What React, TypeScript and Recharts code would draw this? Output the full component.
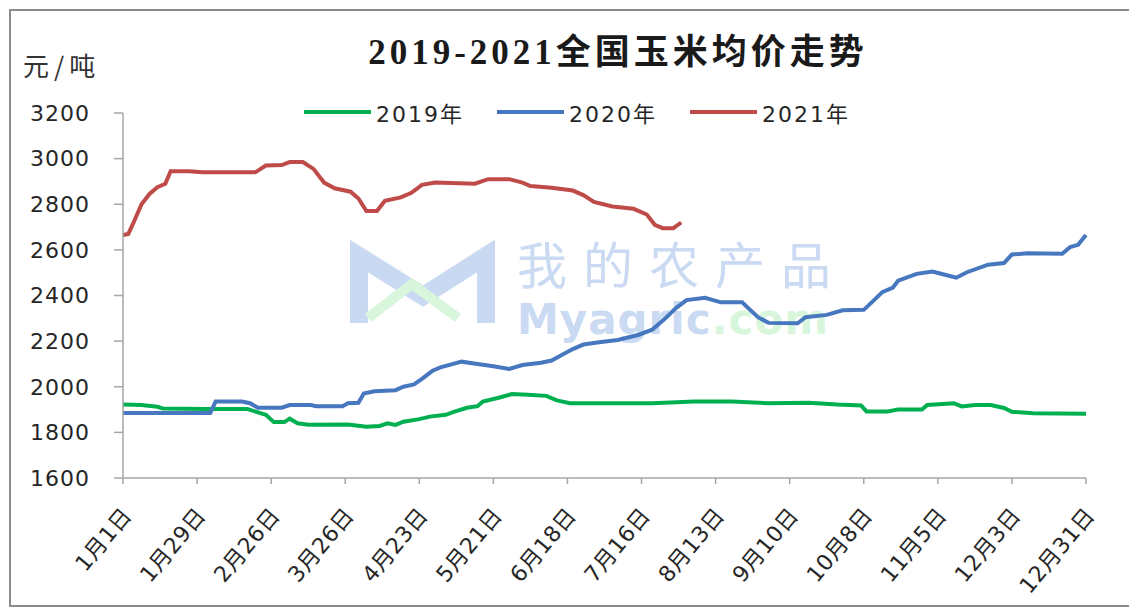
import { LineChart, Line, XAxis, YAxis, Legend } from 'recharts';

// x = day of year (0 = 1月1日), ticks every 28 days
const tickDays = [0, 28, 56, 84, 112, 140, 168, 196, 224, 252, 280, 308, 336, 364];
const tickLabels = ['1月1日', '1月29日', '2月26日', '3月26日', '4月23日', '5月21日', '6月18日',
  '7月16日', '8月13日', '9月10日', '10月8日', '11月5日', '12月3日', '12月31日'];
const yTicks = [1600, 1800, 2000, 2200, 2400, 2600, 2800, 3000, 3200];

const days2019 = [0, 7, 13, 15, 32, 47, 51, 54, 57, 61, 63, 66, 70, 85, 92, 97, 100, 103, 106, 112,
  116, 122, 125, 130, 134, 136, 142, 147, 153, 160, 164, 169, 180, 200, 216, 230, 244, 259, 270, 279,
  281, 289, 293, 302, 304, 314, 317, 322, 328, 333, 336, 344, 364];
const price2019 = [1922, 1920, 1912, 1905, 1902, 1902, 1888, 1877, 1845, 1845, 1860, 1840, 1833, 1835, 1825, 1828, 1840, 1833, 1847, 1858,
  1869, 1877, 1890, 1908, 1915, 1935, 1952, 1968, 1965, 1960, 1940, 1928, 1928, 1928, 1935, 1935, 1928, 1930, 1922, 1918,
  1892, 1892, 1900, 1900, 1920, 1928, 1914, 1920, 1920, 1907, 1890, 1884, 1882];

const days2020 = [0, 33, 35, 45, 48, 51, 60, 63, 71, 73, 83, 85, 89, 91, 95, 103, 106, 110, 113, 117,
  120, 128, 134, 140, 146, 151, 158, 162, 166, 170, 174, 180, 187, 195, 200, 205, 209, 213, 220, 226,
  234, 240, 244, 255, 258, 266, 272, 280, 283, 287, 291, 293, 300, 306, 311, 315, 319, 327, 333, 336,
  342, 355, 358, 361, 364];
const price2020 = [1885, 1885, 1935, 1935, 1928, 1908, 1908, 1920, 1920, 1915, 1915, 1928, 1930, 1970, 1980, 1985, 2000, 2010, 2035, 2070,
  2085, 2110, 2100, 2090, 2078, 2095, 2105, 2115, 2140, 2165, 2185, 2195, 2205, 2228, 2250, 2300, 2345, 2380, 2390, 2370,
  2370, 2305, 2280, 2278, 2305, 2315, 2335, 2337, 2370, 2415, 2435, 2465, 2495, 2505, 2490, 2478, 2502, 2535, 2542, 2580,
  2585, 2583, 2612, 2622, 2665];

const days2021 = [0, 2, 4, 7, 10, 13, 16, 18, 25, 30, 50, 54, 60, 63, 68, 72, 76, 80, 86, 89,
  92, 96, 99, 105, 109, 113, 118, 133, 138, 146, 151, 154, 162, 170, 174, 178, 185, 193, 198, 201,
  204, 208, 211];
const price2021 = [2665, 2670, 2720, 2800, 2845, 2875, 2890, 2945, 2945, 2940, 2940, 2970, 2972, 2985, 2985, 2955, 2895, 2870, 2855, 2825,
  2770, 2770, 2815, 2830, 2850, 2885, 2895, 2890, 2910, 2910, 2895, 2880, 2872, 2860, 2840, 2810, 2790, 2780, 2755, 2710,
  2695, 2695, 2720];

const toRows = (days: number[], vals: number[]) => days.map((d, i) => ({ day: d, v: vals[i] }));

const series = [
  { name: '2019年', color: '#00b050', data: toRows(days2019, price2019) },
  { name: '2020年', color: '#4677bf', data: toRows(days2020, price2020) },
  { name: '2021年', color: '#be4b48', data: toRows(days2021, price2021) },
];

const FONT = "'DejaVu Sans', 'Noto Sans CJK SC', sans-serif";

const XTick = (props: any) => {
  const { x, y, payload } = props;
  const label = tickLabels[tickDays.indexOf(payload.value)];
  return (
    <g transform={`translate(${x + 10},${y + 32})`}>
      <text textAnchor="end" transform="rotate(-50)" fill="#262626" fontSize={22} fontFamily={FONT} letterSpacing={0.5}>
        {label}
      </text>
    </g>
  );
};

const LegendBox = () => (
  <div style={{ display: 'flex', alignItems: 'center', fontFamily: FONT, fontSize: 22, color: '#262626' }}>
    {series.map((s) => (
      <div key={s.name} style={{ display: 'flex', alignItems: 'center', marginRight: 33 }}>
        <span style={{ display: 'inline-block', width: 67, height: 4, background: s.color, marginRight: 5 }} />
        <span style={{ letterSpacing: 2 }}>{s.name}</span>
      </div>
    ))}
  </div>
);

export default function App() {
  return (
    <div style={{ position: 'relative', width: 1124, height: 600 }}>
      <div style={{ position: 'absolute', left: 1, top: 1, width: 1123, height: 598, border: '2px solid #8c8c8c', boxSizing: 'border-box' }} />
      {/* watermark */}
      <svg width={1124} height={600} style={{ position: 'absolute', left: 0, top: 0 }}>
        <g transform="translate(-8,-8)">
          <polyline points="359,323 359,256 423,296 486,256 486,323" fill="none" stroke="#c8d9f1" strokeWidth={18} />
          <polyline points="368,318 412,284 458,318" fill="none" stroke="#d8f6dc" strokeWidth={10} />
          <text x={517} y={284} fontSize={50} letterSpacing={16} fill="#c9daf2" fontFamily="'Noto Sans CJK SC', sans-serif">我的农产品</text>
          <text x={517} y={334} fontSize={42} fontWeight="bold" letterSpacing={1} fontFamily="'DejaVu Sans', sans-serif">
            <tspan fill="#c9daf2">Myagric</tspan>
            <tspan fill="#d8f6dc">.com</tspan>
          </text>
        </g>
      </svg>
      <div style={{ position: 'absolute', left: 0, top: 0 }}>
        <LineChart width={1124} height={598} margin={{ top: 105, right: 46, bottom: 68, left: 0 }}>
          <XAxis
            dataKey="day"
            type="number"
            domain={[0, 364]}
            ticks={tickDays}
            interval={0}
            height={60}
            tick={<XTick />}
            tickSize={6}
            tickMargin={0}
            stroke="#a6a6a6"
            strokeWidth={1.5}
            allowDuplicatedCategory={false}
          />
          <YAxis
            domain={[1600, 3200]}
            ticks={yTicks}
            width={115}
            tickSize={9}
            tickMargin={24}
            stroke="#a6a6a6"
            strokeWidth={1.5}
            tick={{ fill: '#262626', fontSize: 22, fontFamily: FONT, letterSpacing: 1 }}
          />
          <Legend verticalAlign="middle" align="center" content={<LegendBox />}
            wrapperStyle={{ position: 'absolute', top: 88, left: 296, width: 'auto' }} />
          {series.map((s) => (
            <Line key={s.name} data={s.data} dataKey="v" name={s.name} type="linear" stroke={s.color}
              strokeWidth={4} dot={false} activeDot={false} isAnimationActive={false} />
          ))}
        </LineChart>
      </div>
      <svg width={1124} height={100} style={{ position: 'absolute', left: 0, top: 0, pointerEvents: 'none' }}>
        <text x={610} y={56} textAnchor="middle" fontSize={35} fontWeight="bold" letterSpacing={4} fill="#1a1a1a"
          fontFamily="'Liberation Serif', 'Noto Sans CJK SC', serif">2019-2021全国玉米均价走势</text>
        <text x={15} y={68} fontSize={26} letterSpacing={5} fill="#333" fontFamily="'Noto Sans CJK SC', sans-serif">元/吨</text>
      </svg>
    </div>
  );
}
